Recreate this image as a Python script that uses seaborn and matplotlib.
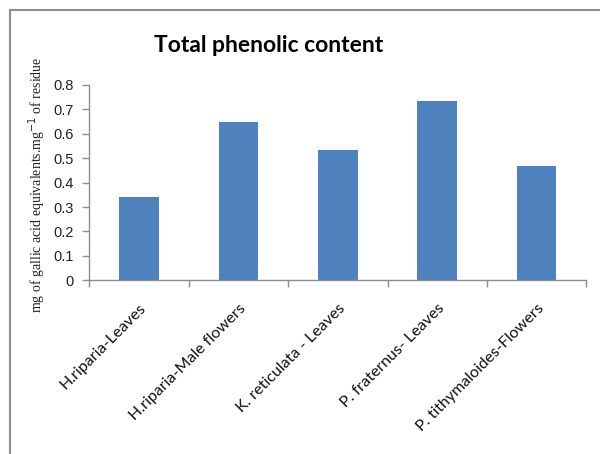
import matplotlib
matplotlib.use("Agg")
import matplotlib.pyplot as plt
from matplotlib.lines import Line2D
from matplotlib.ticker import FixedLocator
import seaborn as sns
import pandas as pd

# Total phenolic content per plant extract
categories = [
    "H.riparia-Leaves",
    "H.riparia-Male flowers",
    "K. reticulata - Leaves",
    "P. fraternus- Leaves",
    "P. tithymaloides-Flowers",
]
values = [0.342, 0.650, 0.535, 0.736, 0.469]
y_ticks = [0, 0.1, 0.2, 0.3, 0.4, 0.5, 0.6, 0.7, 0.8]
y_tick_labels = ["0", "0.1", "0.2", "0.3", "0.4", "0.5", "0.6", "0.7", "0.8"]

df = pd.DataFrame({"sample": categories, "tpc": values})

sns.set_theme(style="white")
plt.rcParams["font.family"] = ["Liberation Sans", "DejaVu Sans"]

fig = plt.figure(figsize=(6.0, 4.54), dpi=100)
ax = fig.add_axes([0.1488, 0.3826, 0.8284, 0.4302])

sns.barplot(data=df, x="sample", y="tpc", color="#4F81BD", width=0.4,
            saturation=1, ax=ax, edgecolor="none")

ax.set_xlim(-0.5, len(categories) - 0.5)
ax.set_ylim(0, 0.8)
ax.set_yticks(y_ticks)
ax.set_yticklabels(y_tick_labels, fontsize=10.5, color="#222222")
ax.set_xlabel("")
ax.set_ylabel("")

# Category labels, rotated
ax.set_xticks(range(len(categories)))
ax.set_xticklabels(categories, rotation=45, ha="right", rotation_mode="anchor",
                   family="Lato", fontsize=11.5, color="#111111")
ax.tick_params(axis="x", which="major", length=0, pad=15)
# Tick marks at category boundaries
ax.xaxis.set_minor_locator(FixedLocator([i - 0.5 for i in range(len(categories) + 1)]))
ax.tick_params(axis="x", which="minor", length=5, width=1, color="#8c8c8c",
               direction="out", bottom=True)
ax.tick_params(axis="y", length=5, width=1, color="#8c8c8c", direction="out",
               left=True, pad=6)

for side in ("top", "right"):
    ax.spines[side].set_visible(False)
for side in ("left", "bottom"):
    ax.spines[side].set_color("#8c8c8c")
    ax.spines[side].set_linewidth(1)
ax.grid(False)

fig.text(0.447, 0.90, "Total phenolic content", ha="center", va="center",
         family="Lato", fontweight="bold", fontsize=16.5, color="#000000")

fig.text(0.062, 0.593, "mg of gallic acid equivalents.mg$^{-1}$ of residue",
         rotation=90, ha="center", va="center", family="Liberation Serif",
         fontsize=10, color="#222222")

# Outer chart frame (top and left edges)
fig.add_artist(Line2D([10 / 600, 1.0], [1 - 10 / 454, 1 - 10 / 454],
                      transform=fig.transFigure, color="#8c8c8c", lw=1.5))
fig.add_artist(Line2D([10 / 600, 10 / 600], [0, 1 - 10 / 454],
                      transform=fig.transFigure, color="#8c8c8c", lw=1.5))

fig.savefig("out.png", dpi=100, facecolor="white")
